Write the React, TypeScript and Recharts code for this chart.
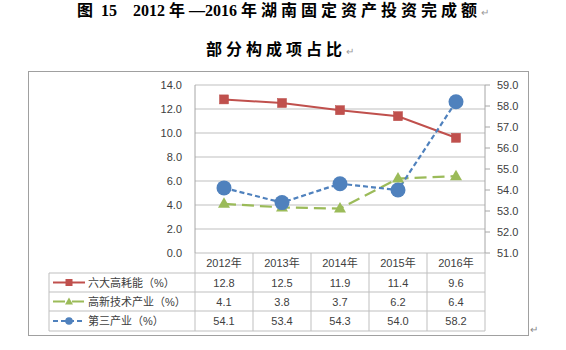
import React from 'react';
import { ComposedChart, Line, XAxis, YAxis, CartesianGrid } from 'recharts';

const years = ['2012年', '2013年', '2014年', '2015年', '2016年'];
const energyShare = [12.8, 12.5, 11.9, 11.4, 9.6];
const hitechShare = [4.1, 3.8, 3.7, 6.2, 6.4];
const tertiaryShare = [54.1, 53.4, 54.3, 54.0, 58.2];
const leftTicks = [0, 2, 4, 6, 8, 10, 12, 14];
const rightTicks = [51, 52, 53, 54, 55, 56, 57, 58, 59];
const seriesNames = ['六大高耗能（%）', '高新技术产业（%）', '第三产业（%）'];

const RED = '#c0504d';
const GREEN = '#9bbb59';
const BLUE = '#4f81bd';
const GRID = '#bfbfbf';
const AXIS = '#a6a6a6';
const TEXT = '#404040';
const FONT = "'Liberation Sans','Noto Sans CJK SC',sans-serif";

const data = years.map((y, i) => ({
  year: y,
  energy: energyShare[i],
  hitech: hitechShare[i],
  tertiary: tertiaryShare[i],
}));

const ROW_EDGES = [0, 20, 39, 58, 78];
const LEGEND_COL_W = 146;

const SquareDot = (props: any) => {
  const { cx, cy, index } = props;
  if (cx == null || cy == null) return <g key={`s${index}`} />;
  return <rect key={`s${index}`} x={cx - 4.5} y={cy - 4.5} width={9} height={9} fill={RED} stroke="#b94a47" strokeWidth={0.5} />;
};
const TriDot = (props: any) => {
  const { cx, cy, index } = props;
  if (cx == null || cy == null) return <g key={`t${index}`} />;
  return (
    <polygon
      key={`t${index}`}
      points={`${cx},${cy - 6.5} ${cx - 6},${cy + 4} ${cx + 6},${cy + 4}`}
      fill={GREEN}
    />
  );
};
const CircleDot = (props: any) => {
  const { cx, cy, index } = props;
  if (cx == null || cy == null) return <g key={`c${index}`} />;
  return <circle key={`c${index}`} cx={cx} cy={cy} r={7.5} fill={BLUE} />;
};

const LegendIcon = ({ kind, x, y }: { kind: number; x: number; y: number }) => {
  const mx = x + 16;
  if (kind === 0) {
    return (
      <g>
        <line x1={x} y1={y} x2={x + 32} y2={y} stroke={RED} strokeWidth={2} />
        <rect x={mx - 3.5} y={y - 3.5} width={7} height={7} fill={RED} />
      </g>
    );
  }
  if (kind === 1) {
    return (
      <g>
        <line x1={x} y1={y} x2={x + 32} y2={y} stroke={GREEN} strokeWidth={2} strokeDasharray="12 7" />
        <polygon points={`${mx},${y - 4} ${mx - 4},${y + 3} ${mx + 4},${y + 3}`} fill={GREEN} />
      </g>
    );
  }
  return (
    <g>
      <line x1={x} y1={y} x2={x + 32} y2={y} stroke={BLUE} strokeWidth={2} strokeDasharray="5 3" />
      <circle cx={mx} cy={y} r={3.8} fill={BLUE} />
    </g>
  );
};

const TableTick = (props: any) => {
  const { x, y, payload } = props;
  const idx = years.indexOf(payload.value);
  const half = payload && payload.offset ? payload.offset : 29;
  const left = x - half;
  const right = x + half;
  const values = [energyShare[idx], hitechShare[idx], tertiaryShare[idx]];
  const rowMid = (r: number) => y + (ROW_EDGES[r] + ROW_EDGES[r + 1]) / 2;
  return (
    <g>
      <line x1={right} y1={y} x2={right} y2={y + ROW_EDGES[4]} stroke={GRID} />
      {idx === 0 && <line x1={left} y1={y} x2={left} y2={y + ROW_EDGES[4]} stroke={GRID} />}
      {[1, 2, 3, 4].map((r) => (
        <line key={r} x1={left} y1={y + ROW_EDGES[r]} x2={right} y2={y + ROW_EDGES[r]} stroke={GRID} />
      ))}
      <text x={x} y={rowMid(0)} textAnchor="middle" dominantBaseline="central" fontSize={11} fill={TEXT} fontFamily={FONT}>
        {payload.value}
      </text>
      {values.map((v, r) => (
        <text key={r} x={x} y={rowMid(r + 1)} textAnchor="middle" dominantBaseline="central" fontSize={11} fill={TEXT} fontFamily={FONT}>
          {v.toFixed(1)}
        </text>
      ))}
      {idx === 0 && (
        <g>
          <line x1={left - LEGEND_COL_W} y1={y + ROW_EDGES[1]} x2={left - LEGEND_COL_W} y2={y + ROW_EDGES[4]} stroke={GRID} />
          {[1, 2, 3, 4].map((r) => (
            <line key={`l${r}`} x1={left - LEGEND_COL_W} y1={y + ROW_EDGES[r]} x2={left} y2={y + ROW_EDGES[r]} stroke={GRID} />
          ))}
          {seriesNames.map((name, r) => (
            <g key={`n${r}`}>
              <LegendIcon kind={r} x={left - LEGEND_COL_W + 4} y={rowMid(r + 1)} />
              <text x={left - LEGEND_COL_W + 39} y={rowMid(r + 1)} dominantBaseline="central" fontSize={11} fill={TEXT} fontFamily={FONT}>
                {name}
              </text>
            </g>
          ))}
        </g>
      )}
    </g>
  );
};

const cjk: React.CSSProperties = { letterSpacing: '4px' };
const mark: React.CSSProperties = { fontSize: 10, color: '#999', fontWeight: 'normal', fontFamily: FONT };

export default function App() {
  return (
    <div style={{ position: 'absolute', left: 0, top: 0, width: 566, height: 350, background: '#fff', overflow: 'hidden' }}>
      <div
        style={{
          position: 'absolute', left: 0, top: 0, width: 566, textAlign: 'center', whiteSpace: 'pre',
          fontSize: 16, fontWeight: 'bold', fontFamily: "'Liberation Serif','Noto Sans CJK SC',serif",
          lineHeight: '22px', color: '#000',
        }}
      >
        <span style={cjk}>图</span>{' 15    2012 '}<span style={cjk}>年</span>{'—2016 '}
        <span style={cjk}>年湖南固定资产投资完成额</span><span style={mark}>↵</span>
      </div>
      <div
        style={{
          position: 'absolute', left: 0, top: 39, width: 560, textAlign: 'center', whiteSpace: 'pre',
          fontSize: 16, fontWeight: 'bold', fontFamily: "'Liberation Serif','Noto Sans CJK SC',serif",
          lineHeight: '22px', color: '#000',
        }}
      >
        <span style={cjk}>部分构成项占比</span><span style={mark}>↵</span>
      </div>
      <div
        style={{
          position: 'absolute', left: 28, top: 71, width: 501, height: 265, boxSizing: 'border-box',
          border: '1.5px solid #a0a0a0',
        }}
      />
      <div style={{ position: 'absolute', left: 530, top: 324, fontSize: 10, color: '#888', fontFamily: FONT }}>↵</div>
      <div style={{ position: 'absolute', left: 0, top: 0 }}>
        <ComposedChart
          width={566}
          height={350}
          data={data}
          margin={{ top: 85, left: 155, right: 36, bottom: 19 }}
        >
          <CartesianGrid yAxisId="left" vertical={false} stroke={GRID} />
          <XAxis
            dataKey="year"
            scale="band"
            height={78}
            axisLine={false}
            tickLine={false}
            tickSize={0}
            tickMargin={0}
            interval={0}
            tick={<TableTick />}
          />
          <YAxis
            yAxisId="left"
            orientation="left"
            width={40}
            domain={[0, 14]}
            ticks={leftTicks}
            tickFormatter={(v: number) => v.toFixed(1)}
            axisLine={{ stroke: AXIS }}
            tickLine={false}
            tickSize={0}
            tickMargin={13}
            tick={{ fontSize: 11, fill: TEXT, fontFamily: FONT }}
          />
          <YAxis
            yAxisId="right"
            orientation="right"
            width={45}
            domain={[51, 59]}
            ticks={rightTicks}
            tickFormatter={(v: number) => v.toFixed(1)}
            axisLine={{ stroke: AXIS }}
            tickLine={{ stroke: AXIS }}
            tickSize={5}
            tickMargin={7}
            tick={{ fontSize: 11, fill: TEXT, fontFamily: FONT }}
          />
          <Line
            yAxisId="left"
            dataKey="energy"
            stroke={RED}
            strokeWidth={2}
            dot={SquareDot}
            activeDot={false}
            isAnimationActive={false}
          />
          <Line
            yAxisId="left"
            dataKey="hitech"
            stroke={GREEN}
            strokeWidth={2.2}
            strokeDasharray="12 6"
            dot={TriDot}
            activeDot={false}
            isAnimationActive={false}
          />
          <Line
            yAxisId="right"
            dataKey="tertiary"
            stroke={BLUE}
            strokeWidth={2.2}
            strokeDasharray="5 3"
            dot={CircleDot}
            activeDot={false}
            isAnimationActive={false}
          />
        </ComposedChart>
      </div>
    </div>
  );
}
